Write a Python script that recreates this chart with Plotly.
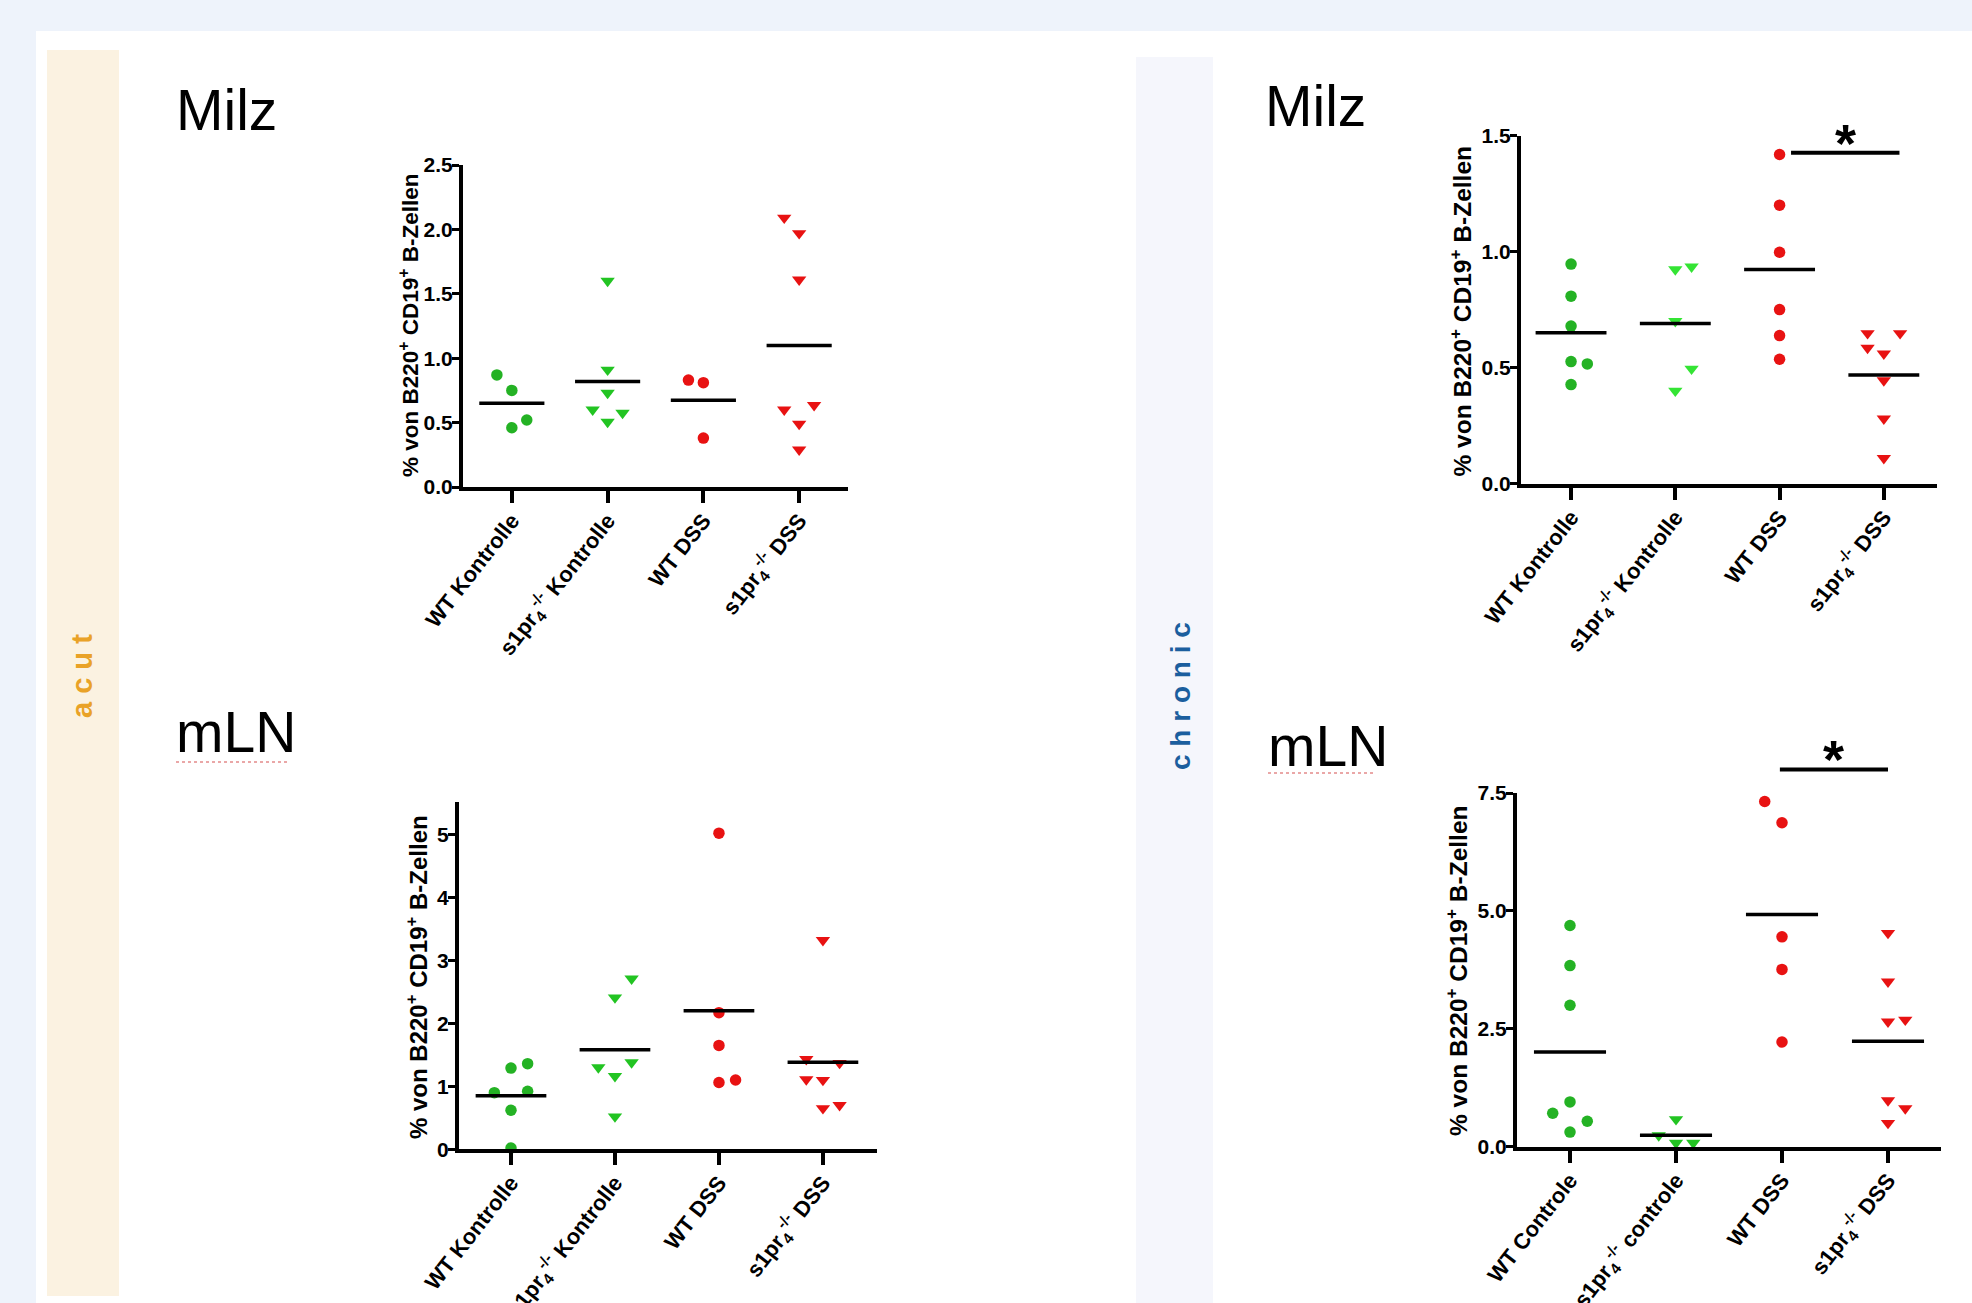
import plotly.graph_objects as go
import numpy as np

W, H = 1972, 1303

# ---------------- data ----------------
cats_milz = ["WT Kontrolle", "s1pr<sub>4</sub><sup>-/-</sup> Kontrolle", "WT DSS", "s1pr<sub>4</sub><sup>-/-</sup> DSS"]
cats_mln_acut = ["WT Kontrolle", "s1pr<sub>4</sub><sup>-/-</sup> Kontrolle", "WT DSS", "s1pr<sub>4</sub><sup>-/-</sup> DSS"]
cats_mln_chronic = ["WT Controle", "s1pr<sub>4</sub><sup>-/-</sup> controle", "WT DSS", "s1pr<sub>4</sub><sup>-/-</sup> DSS"]

# acut - Milz
acut_milz_wt_ctrl = [0.87, 0.75, 0.52, 0.46]
acut_milz_ko_ctrl = [1.60, 0.91, 0.73, 0.60, 0.575, 0.505]
acut_milz_wt_dss = [0.83, 0.81, 0.38]
acut_milz_ko_dss = [2.09, 1.97, 1.61, 0.60, 0.635, 0.49, 0.29]
acut_milz_slots = [[-1, 0, 1, 0], [0, 0, 0, -1, 1, 0], [-1, 0, 0], [-1, 0, 0, -1, 1, 0, 0]]

# acut - mLN
acut_mln_wt_ctrl = [1.29, 1.36, 0.90, 0.92, 0.62, 0.02]
acut_mln_ko_ctrl = [2.71, 2.41, 1.38, 1.30, 1.16, 0.52]
acut_mln_wt_dss = [5.02, 2.17, 1.65, 1.06, 1.10]
acut_mln_ko_dss = [3.32, 1.43, 1.37, 1.11, 1.10, 0.65, 0.70]
acut_mln_slots = [[0, 1, -1, 1, 0, 0], [1, 0, 1, -1, 0, 0], [0, 0, 0, 0, 1], [0, -1, 1, -1, 0, 0, 1]]

# chronic - Milz
chron_milz_wt_ctrl = [0.946, 0.808, 0.679, 0.526, 0.516, 0.427]
chron_milz_ko_ctrl = [0.923, 0.935, 0.70, 0.495, 0.40]
chron_milz_wt_dss = [1.418, 1.20, 0.997, 0.75, 0.638, 0.536]
chron_milz_ko_dss = [0.648, 0.648, 0.585, 0.56, 0.445, 0.28, 0.11]
chron_milz_slots = [[0, 0, 0, 0, 1, 0], [0, 1, 0, 1, 0], [0, 0, 0, 0, 0, 0], [-1, 1, -1, 0, 0, 0, 0]]
chron_milz_sig = [2.11, 3.15, 1.426]   # x from, x to, y

# chronic - mLN
chron_mln_wt_ctrl = [4.69, 3.84, 3.00, 0.71, 0.95, 0.54, 0.31]
chron_mln_ko_ctrl = [0.58, 0.24, 0.08, 0.08]
chron_mln_wt_dss = [7.32, 6.87, 4.45, 3.76, 2.22]
chron_mln_ko_dss = [4.53, 3.50, 2.65, 2.69, 0.98, 0.81, 0.50]
chron_mln_slots = [[0, 0, 0, -1, 0, 1, 0], [0, -1, 0, 1], [-1, 0, 0, 0, 0], [0, 0, 0, 1, 0, 1, 0]]
chron_mln_sig = [1.98, 3.0, 8.0]

y_title = "% von B220<sup>+</sup> CD19<sup>+</sup> B-Zellen"

# ---------------- styling ----------------
GREEN_WT = "rgb(36,178,36)"
GREEN_KO = "rgb(34,196,34)"
GREEN_KO_LIGHT = "rgb(52,228,52)"
RED = "rgb(232,18,18)"
SANS = "Liberation Sans, Arial, sans-serif"

def px(x):
    return x / W

def py(y):
    return 1 - y / H

panels = [
    dict(groups=[acut_milz_wt_ctrl, acut_milz_ko_ctrl, acut_milz_wt_dss, acut_milz_ko_dss],
         slots=acut_milz_slots, cats=cats_milz, colors=[GREEN_WT, GREEN_KO, RED, RED],
         xdom=(463, 848), ydom=(165, 487), yr=[0, 2.5], xr=[-0.51, 3.51],
         ytv=[0, 0.5, 1.0, 1.5, 2.0, 2.5], yfmt=".1f", step=0.156,
         ylab=(409, 325, 22.5), sig=None),
    dict(groups=[acut_mln_wt_ctrl, acut_mln_ko_ctrl, acut_mln_wt_dss, acut_mln_ko_dss],
         slots=acut_mln_slots, cats=cats_mln_acut, colors=[GREEN_WT, GREEN_KO, RED, RED],
         xdom=(459, 877), ydom=(801.7, 1149.3), yr=[0, 5.52], xr=[-0.5, 3.52],
         ytv=[0, 1, 2, 3, 4, 5], yfmt="d", step=0.16,
         ylab=(417, 977, 24), sig=None),
    dict(groups=[chron_milz_wt_ctrl, chron_milz_ko_ctrl, chron_milz_wt_dss, chron_milz_ko_dss],
         slots=chron_milz_slots, cats=cats_milz, colors=[GREEN_WT, GREEN_KO_LIGHT, RED, RED],
         xdom=(1521, 1937), ydom=(135.5, 483.7), yr=[0, 1.5], xr=[-0.48, 3.51],
         ytv=[0, 0.5, 1.0, 1.5], yfmt=".1f", step=0.156,
         ylab=(1460, 311.5, 24.5), sig=chron_milz_sig),
    dict(groups=[chron_mln_wt_ctrl, chron_mln_ko_ctrl, chron_mln_wt_dss, chron_mln_ko_dss],
         slots=chron_mln_slots, cats=cats_mln_chronic, colors=[GREEN_WT, GREEN_KO, RED, RED],
         xdom=(1517, 1941), ydom=(793, 1146.7), yr=[0, 7.5], xr=[-0.5, 3.5],
         ytv=[0, 2.5, 5.0, 7.5], yfmt=".1f", step=0.163,
         ylab=(1457, 971, 24.5), sig=chron_mln_sig),
]

symbols = ["circle", "triangle-down", "circle", "triangle-down"]

fig = go.Figure()
layout = {}
shapes = []
annotations = []

for k, p in enumerate(panels):
    n = "" if k == 0 else str(k + 1)
    xa, ya = "x" + n, "y" + n
    for gi, (vals, sl) in enumerate(zip(p["groups"], p["slots"])):
        xs = [gi + s * p["step"] for s in sl]
        fig.add_trace(go.Scatter(
            x=xs, y=vals, mode="markers", xaxis=xa, yaxis=ya, cliponaxis=False,
            marker=dict(symbol=symbols[gi], size=11.5 if symbols[gi] == "circle" else 12.5,
                        color=p["colors"][gi], line=dict(width=0)),
            showlegend=False, hoverinfo="y"))
        m = float(np.mean(vals))
        fig.add_trace(go.Scatter(
            x=[gi - 0.34, gi + 0.34], y=[m, m], mode="lines", xaxis=xa, yaxis=ya,
            line=dict(color="black", width=3.5), showlegend=False, hoverinfo="skip"))
    layout["xaxis" + n] = dict(
        domain=[px(p["xdom"][0]), px(p["xdom"][1])], anchor=ya, range=p["xr"],
        tickvals=[0, 1, 2, 3], ticktext=p["cats"], tickangle=-52, automargin=False,
        showline=True, linecolor="black", linewidth=4, ticks="outside", ticklen=12,
        tickwidth=4, tickcolor="black", showgrid=False, zeroline=False,
        ticklabelstandoff=-4,
        tickfont=dict(family=SANS, size=22, color="black", weight="bold"), fixedrange=True)
    layout["yaxis" + n] = dict(
        domain=[py(p["ydom"][1]), py(p["ydom"][0])], anchor=xa, range=p["yr"],
        tickvals=p["ytv"], tickformat=p["yfmt"], automargin=False,
        showline=True, linecolor="black", linewidth=4, ticks="outside", ticklen=7,
        tickwidth=3, tickcolor="black", showgrid=False, zeroline=False,
        ticklabelstandoff=-5,
        tickfont=dict(family=SANS, size=21, color="black", weight="bold"), fixedrange=True)
    annotations.append(dict(
        text=y_title, xref="paper", yref="paper", x=px(p["ylab"][0]), y=py(p["ylab"][1]),
        xanchor="center", yanchor="middle", textangle=-90, showarrow=False,
        font=dict(family=SANS, size=p["ylab"][2], color="black", weight="bold")))
    if p["sig"] is not None:
        x0, x1, yv = p["sig"]
        shapes.append(dict(type="line", xref=xa, yref=ya + " domain", x0=x0, x1=x1,
                           y0=yv / p["yr"][1], y1=yv / p["yr"][1],
                           line=dict(color="black", width=4), layer="above"))
        annotations.append(dict(text="*", xref=xa, yref=ya + " domain", x=(x0 + x1) / 2,
                                y=yv / p["yr"][1], xanchor="center", yanchor="middle",
                                yshift=10, showarrow=False,
                                font=dict(family=SANS, size=54, color="black", weight="bold")))

# ---------------- page decoration ----------------
shapes = [
    dict(type="rect", xref="paper", yref="paper", x0=px(36), x1=1, y0=0, y1=py(31),
         fillcolor="white", line=dict(width=0), layer="below"),
    dict(type="rect", xref="paper", yref="paper", x0=px(47), x1=px(119), y0=py(1296), y1=py(50),
         fillcolor="#fbf2e1", line=dict(width=0), layer="below"),
    dict(type="rect", xref="paper", yref="paper", x0=px(1136), x1=px(1213), y0=0, y1=py(57),
         fillcolor="#f5f6fc", line=dict(width=0), layer="below"),
    dict(type="line", xref="paper", yref="paper", x0=px(176), x1=px(287), y0=py(762), y1=py(762),
         line=dict(color="#e48a8a", width=1.5, dash="dot"), layer="above"),
    dict(type="line", xref="paper", yref="paper", x0=px(1268), x1=px(1376), y0=py(773), y1=py(773),
         line=dict(color="#e48a8a", width=1.5, dash="dot"), layer="above"),
] + shapes

titles = [("Milz", 174, 110), ("mLN", 174, 732), ("Milz", 1263, 106.5), ("mLN", 1266, 746)]
for t, x, y in titles:
    annotations.append(dict(text=t, xref="paper", yref="paper", x=px(x), y=py(y),
                            xanchor="left", yanchor="middle", showarrow=False,
                            font=dict(family=SANS, size=57, color="black")))

annotations.append(dict(text="a c u t", xref="paper", yref="paper", x=px(82), y=py(676),
                        xanchor="center", yanchor="middle", textangle=-90, showarrow=False,
                        font=dict(family=SANS, size=29, color="#e9a227", weight="bold")))
annotations.append(dict(text="c h r o n i c", xref="paper", yref="paper", x=px(1180), y=py(696),
                        xanchor="center", yanchor="middle", textangle=-90, showarrow=False,
                        font=dict(family=SANS, size=28, color="#1b5e9e", weight="bold")))

fig.update_layout(
    width=W, height=H, margin=dict(l=0, r=0, t=0, b=0, autoexpand=False),
    paper_bgcolor="#eef3fb", plot_bgcolor="rgba(0,0,0,0)",
    shapes=shapes, annotations=annotations, showlegend=False, **layout)

fig.write_html("out.html", config={"displayModeBar": False},
               post_script="document.body.style.margin='0';document.body.style.overflow='hidden';")
